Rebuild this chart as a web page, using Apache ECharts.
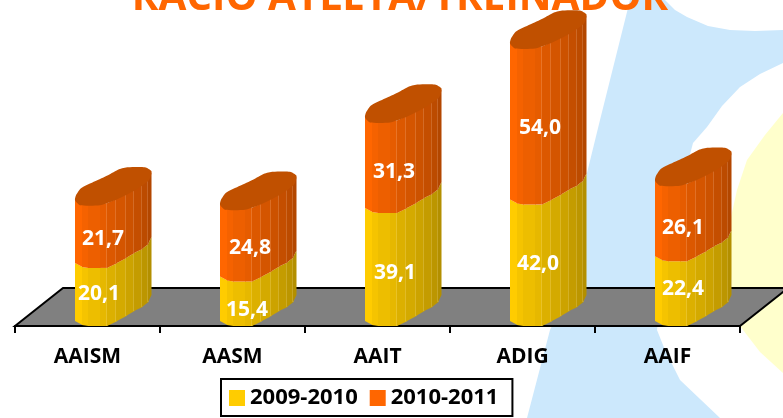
<!DOCTYPE html>
<html>
<head>
<meta charset="utf-8">
<style>html,body{margin:0;padding:0;background:#fff}#chart{width:783px;height:418px}</style>
<script src="https://cdn.jsdelivr.net/npm/echarts@6/dist/echarts.min.js"></script>
</head>
<body>
<div id="chart"></div>
<script>
var chartTitle = 'RACIO ATLETA/TREINADOR';
var categories = ['AAISM', 'AASM', 'AAIT', 'ADIG', 'AAIF'];
var seasonNames = ['2009-2010', '2010-2011'];
var values2009 = [20.1, 15.4, 39.1, 42.0, 22.4];
var values2010 = [21.7, 24.8, 31.3, 54.0, 26.1];

var font = '"Open Sans", sans-serif';
/* column look: facet edges and how far the front edge rises at each one */
var facetX = [0, 7, 13, 25, 32, 41, 51, 59, 67, 73, 76];
var facetRise = [5, 1, 0, 0, 0, 4.5, 10, 15, 19, 24, 31];
var capShape = [[0, -5], [1, -10], [6, -17], [20, -24], [33, -30], [44, -36], [53, -38], [70, -38], [76.5, -34], [74, -25], [60, -15], [40, -5], [25, 0], [5, 0]];
var yellowShades = ['#ffcc00', '#f5c400', '#edbe00', '#e6b800', '#dcb000', '#d4aa00', '#ccA300', '#c49c00', '#bc9600', '#b38f00'];
var orangeShades = ['#ff6600', '#f56200', '#ed5f00', '#e65c00', '#dc5800', '#d45500', '#cc5200', '#c44e00', '#bc4b00', '#b34700'];
var barShift = -12.5;
var labelShift = [[24, -3], [27, 6], [30, 4], [28, -1], [28, -5]];
var topLabelShift = [[28, 2], [30, 2], [29, 4], [30, 1], [28, 4]];

/* background swooshes, decoration only */
var blueShape = [[630,0],[600,120],[587,173],[570,290],[550,330],[527,418],[720,418],[680,380],[665,350],[657,330],[660,300],[670,230],[693,143],[707,127],[722,106],[740,87],[760,74],[783,63],[783,30],[755,31],[730,30],[708,26],[687,17],[675,10],[665,0]];
var yellowShape = [[783,113],[765,135],[747,160],[737,190],[731,217],[730,260],[733,300],[740,326],[760,352],[783,373]];

function columnItem(values, bases, shades, withCap, labelPos) {
	return function (params, api) {
		var i = api.value(0);
		var center = api.coord([i, 0]);
		var x = center[0] + barShift;
		var yLow = api.coord([i, bases[i]])[1];
		var yTop = api.coord([i, bases[i] + values[i]])[1];
		// tuck the strips under the cap so no gap shows along its edge
		var pad = withCap ? 2 : 0;
		var children = [];
		for (var k = 0; k < facetX.length - 1; k++) {
			var x0 = x + facetX[k], x1 = x + facetX[k + 1];
			children.push({
				type: 'polygon',
				shape: { points: [[x0, yTop - facetRise[k] - pad], [x1 + 0.5, yTop - facetRise[k + 1] - pad], [x1 + 0.5, yLow - facetRise[k + 1]], [x0, yLow - facetRise[k]]] },
				style: { fill: shades[k] }
			});
			if (k >= 3 && k < facetX.length - 2) {
				children.push({
					type: 'line',
					shape: { x1: x1, y1: yTop - facetRise[k + 1] - pad, x2: x1, y2: yLow - facetRise[k + 1] },
					style: { stroke: 'rgba(255,255,255,0.3)', lineWidth: 1 }
				});
			}
		}
		if (withCap) {
			children.push({
				type: 'polygon',
				shape: { points: capShape.map(function (p) { return [x + p[0], yTop + p[1]]; }), smooth: 0.2 },
				style: { fill: '#c05000' }
			});
		}
		children.push({
			type: 'text',
			style: {
				x: x + labelPos[i][0],
				y: (yLow + yTop) / 2 + labelPos[i][1],
				text: values[i].toFixed(1).replace('.', ','),
				fill: '#fff',
				font: 'bold 21px ' + font,
				align: 'center',
				verticalAlign: 'middle'
			}
		});
		return { type: 'group', children: children };
	};
}

function floorItem(params, api) {
	var c = params.coordSys;
	var left = c.x, right = c.x + c.width, y = c.y + c.height;
	return {
		type: 'polygon',
		shape: { points: [[left, y], [left + 48, y - 38], [right + 48, y - 38], [right, y]] },
		style: { fill: '#808080', stroke: '#000', lineWidth: 2 }
	};
}

var zeros = categories.map(function () { return 0; });
var chart = echarts.init(document.getElementById('chart'));
chart.setOption({
	animation: false,
	backgroundColor: '#fff',
	title: {
		text: chartTitle,
		left: 395,
		top: -27,
		textAlign: 'center',
		textStyle: { color: '#ff6600', fontSize: 40.4, fontWeight: 'bold', fontFamily: font }
	},
	graphic: [
		{ type: 'polygon', z: -10, silent: true, shape: { points: blueShape }, style: { fill: '#cce8fc' } },
		{ type: 'polygon', z: -10, silent: true, shape: { points: yellowShape }, style: { fill: '#ffffcc' } }
	],
	legend: {
		data: seasonNames,
		left: 221,
		top: 379,
		padding: [8, 14, 7, 8],
		itemGap: 12,
		itemWidth: 16,
		itemHeight: 16,
		icon: 'rect',
		backgroundColor: '#fff',
		borderColor: '#000',
		borderWidth: 2,
		textStyle: { color: '#000', fontSize: 22, fontWeight: 'bold', fontFamily: font }
	},
	grid: { left: 15, right: 43, top: 37, bottom: 92 },
	xAxis: {
		type: 'category',
		data: categories,
		axisLine: { lineStyle: { color: '#000', width: 2 } },
		axisTick: { show: true, length: 7, lineStyle: { color: '#000', width: 2 } },
		axisLabel: { color: '#000', fontSize: 21, fontWeight: 'bold', fontFamily: font, margin: 21 }
	},
	yAxis: { type: 'value', min: 0, max: 100, show: false },
	series: [
		{
			name: 'floor', type: 'custom', z: 1, data: [0], silent: true,
			encode: { x: 0 }, renderItem: floorItem
		},
		{
			name: seasonNames[0], type: 'custom', z: 3, itemStyle: { color: '#ffcc00' },
			data: values2009.map(function (v, i) { return [i, v]; }),
			encode: { x: 0, y: 1 },
			renderItem: columnItem(values2009, zeros, yellowShades, false, labelShift)
		},
		{
			name: seasonNames[1], type: 'custom', z: 4, itemStyle: { color: '#ff6600' },
			data: values2010.map(function (v, i) { return [i, v + values2009[i]]; }),
			encode: { x: 0, y: 1 },
			renderItem: columnItem(values2010, values2009, orangeShades, true, topLabelShift)
		}
	]
});
</script>
</body>
</html>
